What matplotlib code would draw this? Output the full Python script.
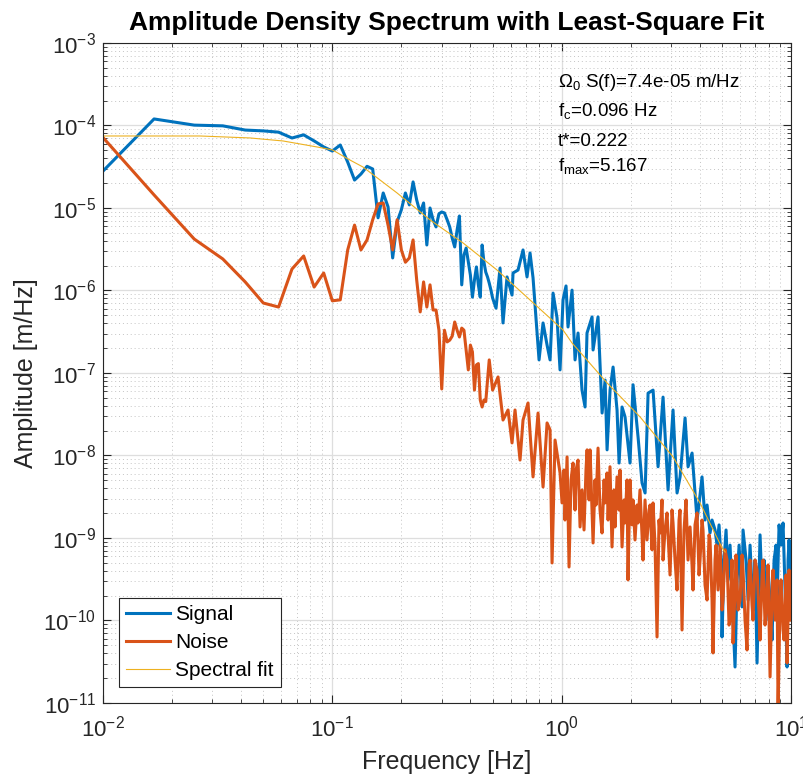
import numpy as np
import matplotlib
matplotlib.use('Agg')
import matplotlib.pyplot as plt
from matplotlib.ticker import LogLocator, NullFormatter

# bins below 0.5 Hz (shared by signal and noise)
freq_low = [0.0083, 0.0167, 0.025, 0.0333, 0.0417, 0.05, 0.0583, 0.0667, 0.075, 0.0833,
            0.0917, 0.1, 0.1083, 0.1167, 0.125, 0.1333, 0.1417, 0.15, 0.1583, 0.1667,
            0.175, 0.1833, 0.1917, 0.2, 0.2083, 0.2167, 0.225, 0.2333, 0.2417, 0.25,
            0.2583, 0.2667, 0.275, 0.2833, 0.2917, 0.3, 0.3083, 0.3167, 0.325, 0.3333,
            0.3417, 0.35, 0.3583, 0.3667, 0.375, 0.3833, 0.3917, 0.4, 0.4083, 0.4167,
            0.425, 0.4333, 0.4417, 0.45, 0.4583, 0.4667, 0.475, 0.4833, 0.4917, 0.5]

signal_low = [1.65e-5, 1.2e-4, 1.01e-4, 9.9e-5, 8.8e-5, 8.6e-5, 8.3e-5, 7.05e-5, 7.7e-5, 6.5e-5,
              5.5e-5, 4.9e-5, 5.8e-5, 3.6e-5, 2.18e-5, 2.58e-5, 3.2e-5, 2.97e-5, 7.6e-6, 1.52e-5,
              1.03e-5, 2.48e-6, 6.8e-6, 9.5e-6, 1.52e-5, 1.09e-5, 2.07e-5, 1.25e-5, 8.7e-6, 1.15e-5,
              3.56e-6, 1.0e-5, 7.2e-6, 5.9e-6, 8.5e-6, 8.95e-6, 8.7e-6, 7.2e-6, 5.9e-6, 4.3e-6,
              3.37e-6, 5.4e-6, 8.0e-6, 1.17e-6, 2.7e-6, 3.27e-6, 2.21e-6, 1.54e-6, 8.3e-7, 1.34e-6,
              1.93e-6, 1.17e-6, 8.3e-7, 3.56e-6, 2.21e-6, 1.67e-6, 1.46e-6, 1.23e-6, 1.01e-6, 8.1e-7]

noise_low = [1.28e-4, 1.44e-5, 4.2e-6, 2.41e-6, 1.27e-6, 7.05e-7, 6.3e-7, 1.82e-6, 2.62e-6, 1.1e-6,
             1.63e-6, 7.5e-7, 7.7e-7, 3.1e-6, 6.2e-6, 3.1e-6, 4.1e-6, 7.2e-6, 1.12e-5, 1.15e-5,
             6.2e-6, 3.1e-6, 7.2e-6, 3.1e-6, 2.2e-6, 2.48e-6, 4.1e-6, 1.34e-6, 5.5e-7, 1.27e-6,
             6.3e-7, 1.17e-6, 5.8e-7, 5.8e-7, 3.3e-7, 6.4e-8, 3.3e-7, 2.38e-7, 2.5e-7, 2.8e-7,
             4.15e-7, 3.3e-7, 2.73e-7, 3.5e-7, 3.3e-7, 1.9e-7, 1.09e-7, 2.18e-7, 1.8e-7, 6.2e-8,
             1.25e-7, 1.3e-7, 4.7e-8, 3.87e-8, 4.7e-8, 4.5e-8, 8.2e-8, 1.44e-7, 9.5e-8, 6.2e-8]

# above 0.5 Hz: peaks and troughs
signal_hi_f = [0.5175, 0.5387, 0.5551, 0.5779, 0.6076, 0.6138, 0.6454, 0.6786, 0.7064, 0.7281,
               0.7504, 0.797, 0.8297, 0.8638, 0.8902, 0.9174, 0.9548, 0.984, 1.014, 1.045,
               1.066, 1.11, 1.144, 1.179, 1.227, 1.265, 1.29, 1.357, 1.371, 1.441,
               1.501, 1.547, 1.578, 1.626, 1.676, 1.744, 1.78, 1.834, 1.89, 1.987,
               2.048, 2.154, 2.242, 2.311, 2.382, 2.504, 2.633, 2.768, 2.911, 3.06,
               3.186, 3.284, 3.453, 3.558, 3.704, 3.895, 4.013, 4.094, 4.22, 4.306,
               4.437, 4.527, 4.665, 4.761, 4.857, 4.956, 5.005, 5.107, 5.211, 5.318,
               5.424, 5.589, 5.703, 5.822, 5.94, 6.118, 6.18, 6.372, 6.501, 6.631,
               6.833, 6.972, 7.113, 7.258, 7.331, 7.48, 7.632, 7.787, 7.945, 8.106,
               8.27, 8.438, 8.61, 8.696, 8.873, 9.053, 9.236, 9.425, 9.615, 9.713,
               9.81, 10.0]
signal_hi_a = [6.1e-7, 1.87e-6, 4.04e-7, 1.46e-6, 8.8e-7, 1.63e-6, 1.77e-6, 3.1e-6, 1.46e-6, 2.85e-6,
               1.42e-6, 1.44e-7, 4.04e-7, 2.18e-7, 1.44e-7, 9.3e-7, 4.65e-7, 1.09e-7, 7.7e-7, 1.135e-6,
               3.61e-7, 1.01e-6, 1.44e-7, 3.05e-7, 6.2e-8, 3.87e-8, 3.05e-7, 4.78e-7, 1.9e-7, 4.78e-7,
               3.27e-8, 8.2e-8, 1.17e-8, 6.2e-8, 1.18e-7, 3.56e-8, 8.1e-9, 3.87e-8, 2.93e-8, 8.1e-9,
               7.2e-8, 1.67e-8, 4.65e-9, 3.51e-9, 5.7e-8, 6.2e-8, 7.3e-9, 5.1e-8, 3.82e-9, 3.56e-8,
               3.51e-9, 5.5e-9, 2.85e-8, 7.3e-9, 1.07e-8, 1.65e-9, 3.32e-9, 5.5e-9, 1.65e-9, 2.51e-9,
               1.15e-9, 1.65e-9, 1.25e-9, 8.2e-10, 1.44e-9, 5.4e-10, 6.31e-11, 5.4e-10, 1.25e-9, 3.1e-10,
               8.2e-10, 1.01e-10, 2.73e-11, 3.1e-10, 8.2e-10, 1.46e-10, 1.25e-9, 5.4e-10, 1.77e-10, 8.2e-10,
               1.34e-10, 5.4e-10, 3.05e-11, 3.1e-10, 1.09e-9, 2.34e-10, 5.4e-10, 1.01e-10, 4.09e-10, 1.77e-10,
               5.8e-11, 5.4e-10, 8.2e-10, 1.77e-10, 1.44e-9, 8.2e-10, 1.52e-9, 2.34e-10, 2.73e-11, 5.4e-10,
               9.46e-10, 3.1e-10]

noise_hi_f = [0.528, 0.5551, 0.5837, 0.6076, 0.6262, 0.6585, 0.6786, 0.7136, 0.7504, 0.789,
              0.8297, 0.8638, 0.8902, 0.9082, 0.9358, 0.984, 1.004, 1.024, 1.034, 1.056,
              1.077, 1.099, 1.121, 1.144, 1.156, 1.179, 1.203, 1.227, 1.252, 1.277,
              1.291, 1.317, 1.33, 1.371, 1.398, 1.412, 1.441, 1.47, 1.5, 1.531,
              1.546, 1.577, 1.594, 1.625, 1.658, 1.692, 1.709, 1.744, 1.779, 1.797,
              1.834, 1.871, 1.889, 1.928, 1.947, 1.987, 2.027, 2.047, 2.089, 2.132,
              2.153, 2.196, 2.241, 2.264, 2.31, 2.356, 2.405, 2.429, 2.478, 2.503,
              2.554, 2.606, 2.658, 2.686, 2.74, 2.768, 2.824, 2.881, 2.94, 2.969,
              3.029, 3.06, 3.122, 3.185, 3.25, 3.282, 3.349, 3.417, 3.487, 3.557,
              3.63, 3.703, 3.74, 3.816, 3.894, 3.973, 4.013, 4.094, 4.135, 4.22,
              4.306, 4.393, 4.437, 4.527, 4.572, 4.665, 4.713, 4.808, 4.905, 5.005,
              5.055, 5.159, 5.263, 5.369, 5.424, 5.534, 5.589, 5.703, 5.76, 5.878,
              5.997, 6.118, 6.18, 6.306, 6.433, 6.564, 6.631, 6.764, 6.833, 6.972,
              7.113, 7.258, 7.331, 7.48, 7.556, 7.709, 7.787, 7.945, 8.106, 8.27,
              8.354, 8.523, 8.696, 8.784, 8.962, 9.053, 9.236, 9.33, 9.519, 9.615,
              9.81, 9.909, 10.0]
noise_hi_a = [8.95e-8, 2.69e-8, 3.56e-8, 1.42e-8, 3.56e-8, 8.8e-9, 2.69e-8, 4.33e-8, 5.5e-9, 3.27e-8,
              4.15e-9, 2.48e-8, 2.04e-8, 4.98e-10, 1.54e-8, 6.14e-9, 2.66e-9, 6.67e-9, 1.65e-9, 9.6e-9,
              4.45e-10, 5.05e-9, 8.1e-9, 2.18e-9, 6.67e-9, 8.8e-9, 1.36e-9, 3.82e-9, 1.25e-9, 6.67e-9,
              1.17e-8, 2.89e-9, 1.17e-8, 8.7e-10, 5.05e-9, 2.51e-9, 1.23e-8, 2.18e-9, 1.15e-9, 5.05e-9,
              2.66e-9, 6.14e-9, 1.65e-9, 7.3e-9, 7.78e-10, 3.82e-9, 1.36e-9, 5.5e-9, 2.18e-9, 6.67e-9,
              7.78e-10, 2.89e-9, 1.52e-9, 5.05e-9, 3.1e-10, 5.05e-9, 1.44e-9, 2.89e-9, 9.46e-10, 2.51e-9,
              1.52e-9, 3.82e-9, 1.09e-9, 5.4e-10, 2.89e-9, 9.46e-10, 2.18e-9, 2.51e-9, 7.2e-10, 2.66e-9,
              8.2e-10, 6.31e-11, 1.65e-9, 1.15e-9, 2.89e-9, 5.4e-10, 1.25e-9, 2.01e-9, 6.22e-10, 3.56e-10,
              2.18e-9, 1.52e-9, 5.4e-10, 2.34e-10, 1.65e-9, 2.18e-9, 7.67e-11, 1.25e-9, 2.89e-9, 5.4e-10,
              1.36e-9, 4.71e-10, 2.34e-10, 1.44e-9, 2.01e-9, 3.56e-10, 5.4e-10, 1.65e-9, 1.25e-9, 2.69e-10,
              1.77e-10, 1.09e-9, 9.46e-10, 1.77e-10, 4.04e-11, 5.4e-10, 8.2e-10, 2.34e-10, 8.2e-10, 1.34e-10,
              1.77e-10, 7.2e-10, 5.4e-10, 8.8e-11, 1.01e-10, 5.4e-10, 5.33e-11, 2.34e-10, 6.22e-10, 1.34e-10,
              1.77e-10, 6.22e-10, 4.09e-10, 1.01e-10, 4.39e-11, 4.71e-10, 5.4e-10, 1.54e-10, 1.01e-10, 5.4e-10,
              4.09e-10, 1.17e-10, 5.8e-11, 3.56e-10, 5.4e-10, 8.8e-11, 1.34e-10, 4.71e-10, 2.07e-11, 2.34e-10,
              4.09e-10, 1.01e-10, 3.1e-10, 8.0e-12, 1.77e-10, 3.1e-10, 7.67e-11, 5.8e-11, 3.56e-10, 3.05e-11,
              4.09e-10, 1.34e-10, 1.01e-10]

fit_f = [0.01, 0.0265, 0.0438, 0.061, 0.0858, 0.1003, 0.117, 0.136, 0.1916, 0.2668,
         0.3715, 0.5226, 0.7281, 1.014, 1.11, 1.578, 2.198, 3.06, 4.013, 5.006, 5.167]
fit_a = [7.46e-5, 7.46e-5, 7.06e-5, 6.49e-5, 5.49e-5, 5.05e-5, 3.93e-5, 3.14e-5, 1.52e-5, 7.16e-6,
         3.77e-6, 1.77e-6, 7.67e-7, 3.32e-7, 2.31e-7, 7.57e-8, 2.93e-8, 9.6e-9, 2.66e-9, 7.57e-10, 6.76e-10]

info_lines = [r'$\Omega_0$ S(f)=7.4e-05 m/Hz', r'f$_c$=0.096 Hz', 't*=0.222', r'f$_{max}$=5.167']

plt.rcParams['font.family'] = ['Liberation Sans', 'DejaVu Sans']
plt.rcParams['mathtext.fontset'] = 'custom'
plt.rcParams['mathtext.rm'] = 'Liberation Sans'
plt.rcParams['mathtext.it'] = 'Liberation Sans:italic'
plt.rcParams['mathtext.default'] = 'regular'
plt.rcParams['axes.unicode_minus'] = False

dark = '#262626'
fig = plt.figure(figsize=(8.04, 7.83), dpi=100)
ax = fig.add_axes([0.1281, 0.1022, 0.8557, 0.8429])

ax.loglog(freq_low + signal_hi_f, signal_low + signal_hi_a, color='#0072BD', lw=2.2, label='Signal')
ax.loglog(freq_low + noise_hi_f, noise_low + noise_hi_a, color='#D95319', lw=2.2, label='Noise')
ax.loglog(fit_f, fit_a, color='#EDB120', lw=0.8, label='Spectral fit')

ax.set_xlim(1e-2, 1e1)
ax.set_ylim(1e-11, 1e-3)
for axis in (ax.xaxis, ax.yaxis):
    axis.set_major_locator(LogLocator(base=10, numticks=20))
    axis.set_minor_locator(LogLocator(base=10, subs=np.arange(2, 10), numticks=20))
    axis.set_minor_formatter(NullFormatter())

ax.set_axisbelow(True)
ax.grid(True, which='major', color='#dedede', lw=0.9, ls='-')
ax.grid(True, which='minor', color='#c4c4c4', lw=0.7, ls=(0, (1, 3)))
ax.tick_params(which='both', direction='in', top=True, right=True, colors=dark, labelsize=16)
ax.tick_params(which='major', length=6, width=0.8)
ax.tick_params(which='minor', length=3, width=0.6)
ax.tick_params(axis='x', which='major', pad=9)
ax.tick_params(axis='y', which='major', pad=5)
for s in ax.spines.values():
    s.set_color(dark)
    s.set_linewidth(0.8)

ax.set_xlabel('Frequency [Hz]', fontsize=18, color=dark, labelpad=6)
ax.set_ylabel('Amplitude [m/Hz]', fontsize=18, color=dark, labelpad=4)
ax.set_title('Amplitude Density Spectrum with Least-Square Fit', fontsize=19, fontweight='bold', pad=9)

ys = [0.940, 0.897, 0.851, 0.814]
for txt, y in zip(info_lines, ys):
    ax.text(0.661, y, txt, transform=ax.transAxes, fontsize=13.5, va='center', ha='left')

leg = ax.legend(loc='lower left', bbox_to_anchor=(0.023, 0.024), fontsize=15, fancybox=False,
                edgecolor=dark, framealpha=1, handlelength=2.1, borderpad=0.35, labelspacing=0.42,
                handletextpad=0.25, borderaxespad=0)
leg.get_frame().set_linewidth(0.8)

fig.savefig('out.png', dpi=100)
